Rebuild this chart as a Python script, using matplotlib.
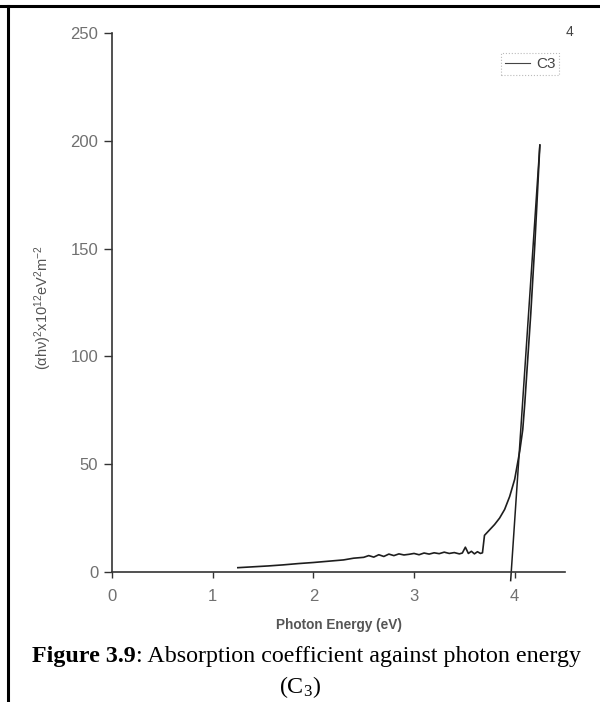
import matplotlib
matplotlib.use('Agg')
import matplotlib.pyplot as plt
from matplotlib.lines import Line2D

plt.rcParams['font.family'] = ['Liberation Sans', 'DejaVu Sans']
plt.rcParams['mathtext.fontset'] = 'custom'
plt.rcParams['mathtext.rm'] = 'Liberation Serif'
plt.rcParams['mathtext.sf'] = 'Liberation Sans'
plt.rcParams['mathtext.it'] = 'Liberation Sans:italic'

# absorption curve
energy = [1.25, 1.40, 1.55, 1.70, 1.85, 2.00, 2.15, 2.30, 2.40, 2.50, 2.55,
          2.60, 2.65, 2.70, 2.75, 2.80, 2.85, 2.90, 2.95, 3.00, 3.05, 3.10,
          3.15, 3.20, 3.25, 3.30, 3.35, 3.40, 3.45, 3.48, 3.51, 3.54, 3.57,
          3.60, 3.63, 3.66, 3.68, 3.70, 3.73, 3.77, 3.80, 3.85, 3.90, 3.95,
          4.00, 4.05, 4.08, 4.10, 4.12, 4.14, 4.16, 4.18, 4.20, 4.22, 4.25]
alpha_hv2 = [2.0, 2.4, 2.8, 3.3, 3.9, 4.4, 5.0, 5.6, 6.4, 6.8, 7.6,
             6.9, 8.0, 7.2, 8.3, 7.6, 8.4, 7.9, 8.2, 8.6, 8.0, 8.8,
             8.3, 8.9, 8.5, 9.2, 8.6, 9.0, 8.4, 8.8, 11.5, 8.6, 9.6,
             8.4, 9.4, 8.6, 8.9, 17.0, 18.5, 20.5, 22.0, 25.0, 29.0, 35.0,
             43.0, 56.0, 66.0, 78.0, 92.0, 106.0, 120.0, 136.0, 152.0, 170.0, 198.0]

# extrapolated straight line to the energy axis
fit_x = [3.96, 4.25]
fit_y = [-4.0, 198.0]

x_ticks = [0, 1, 2, 3, 4]
y_ticks = [0, 50, 100, 150, 200, 250]

fig = plt.figure(figsize=(6.0, 7.02), dpi=100)
ax = fig.add_axes([0.1867, 0.1852, 0.755, 0.7678])

ink = '#1e1e1e'
grey = '#707070'

ax.plot(energy, alpha_hv2, color=ink, lw=1.2, label='C3', clip_on=False)
ax.plot(fit_x, fit_y, color=ink, lw=1.1, clip_on=False)

ax.set_xlim(0, 4.5)
ax.set_ylim(0, 250)
ax.set_xticks(x_ticks)
ax.set_yticks(y_ticks)
ax.tick_params(direction='out', length=6, width=1, color='#333333',
               labelcolor=grey, labelsize=12, pad=4)
ax.tick_params(axis='x', length=4, pad=8)
for side in ['top', 'right']:
    ax.spines[side].set_visible(False)
for side in ['left', 'bottom']:
    ax.spines[side].set_color('#333333')
    ax.spines[side].set_linewidth(1.2)

ax.set_xlabel('Photon Energy (eV)', fontsize=9.8, fontweight='bold',
              color='#555555', labelpad=10)
fig.text(43 / 600, 1 - 308 / 702,
         r'$\mathsf{(\alpha h\nu)^2x10^{12}eV^2m^{-2}}$',
         rotation=90, ha='center', va='center', fontsize=10.5, color='#555555')

leg = ax.legend(handles=[Line2D([], [], color='#444444', lw=0.8)], labels=['C3'],
                loc='upper right', bbox_to_anchor=(0.987, 0.962),
                fontsize=11, frameon=True, fancybox=False, handlelength=1.6,
                handletextpad=0.4, borderpad=0.25, borderaxespad=0)
leg.get_frame().set_edgecolor('#aaaaaa')
leg.get_frame().set_linestyle(':')
leg.get_frame().set_linewidth(0.8)
for t in leg.get_texts():
    t.set_color('#444444')

# stray "4" from the scan, top right
fig.text(569 / 600, 1 - 32 / 702, '4', fontsize=10, color='#444444',
         ha='center', va='center')

# caption below the chart
cap_y = 1 - 662 / 702
t1 = fig.text(32 / 600, cap_y, 'Figure 3.9', fontsize=17.3, fontweight='bold',
              family='Liberation Serif', ha='left', va='baseline')
ax.annotate(': Absorption coefficient against photon energy', xy=(1, 0),
            xycoords=t1, va='bottom', ha='left', fontsize=17.3,
            family='Liberation Serif', annotation_clip=False)
fig.text(300 / 600, 1 - 693 / 702, r'(C$_3$)', fontsize=17.3,
         family='Liberation Serif', ha='center', va='baseline')

# page table border (top and left)
fig.add_artist(Line2D([0, 1], [1 - 6 / 702] * 2, color='black', lw=2.2,
                      transform=fig.transFigure))
fig.add_artist(Line2D([8 / 600] * 2, [0, 1 - 6 / 702], color='black', lw=2.2,
                      transform=fig.transFigure))

fig.savefig('out.png', dpi=100)
